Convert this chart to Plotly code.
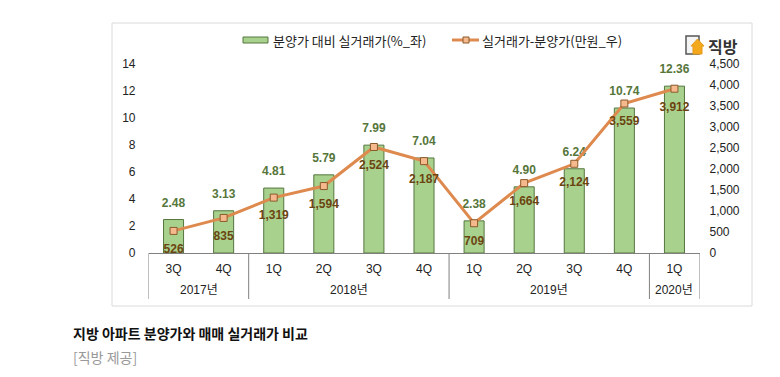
import plotly.graph_objects as go

quarters = ["3Q", "4Q", "1Q", "2Q", "3Q", "4Q", "1Q", "2Q", "3Q", "4Q", "1Q"]
years = ["2017년", "2018년", "2019년", "2020년"]
year_spans = [(0, 1), (2, 5), (6, 9), (10, 10)]
ratio = [2.48, 3.13, 4.81, 5.79, 7.99, 7.04, 2.38, 4.90, 6.24, 10.74, 12.36]
gap = [526, 835, 1319, 1594, 2524, 2187, 709, 1664, 2124, 3559, 3912]
left_ticks = [0, 2, 4, 6, 8, 10, 12, 14]
right_ticks = [0, 500, 1000, 1500, 2000, 2500, 3000, 3500, 4000, 4500]
bar_name = "분양가 대비 실거래가(%_좌)"
line_name = "실거래가-분양가(만원_우)"
caption = "지방 아파트 분양가와 매매 실거래가 비교"
source = "[직방 제공]"
brand = "직방"

# The page body has an 8px margin, so the figure is 772x369 and starts at (8, 8).
W, H = 772, 369
FONT = "Liberation Sans, Noto Sans CJK KR"
KR = "Noto Sans CJK KR"
x_idx = list(range(len(quarters)))


def px(x):
    return (x - 8) / W


def py(y):
    return 1 - (y - 8) / H


def rect(x0, x1, y0, y1, line, fill, width=1):
    return dict(type="rect", xref="paper", yref="paper", x0=px(x0), x1=px(x1), y0=py(y1), y1=py(y0),
                line=dict(color=line, width=width), fillcolor=fill)


fig = go.Figure()
fig.add_bar(
    x=x_idx, y=ratio, name=bar_name, width=0.4,
    marker=dict(color="#A9D18E", line=dict(color="#55763F", width=1)),
    yaxis="y",
)
fig.add_scatter(
    x=x_idx, y=gap, name=line_name, mode="lines+markers",
    line=dict(color="#DE8A4E", width=3),
    marker=dict(symbol="square", size=7, color="#F6B98D", line=dict(color="#8A5A2B", width=1)),
    yaxis="y2",
)
# Data labels: transparent markers set the distance between the label and its point.
fig.add_scatter(
    x=x_idx, y=ratio, mode="markers+text", showlegend=False, hoverinfo="skip",
    marker=dict(size=14, color="rgba(0,0,0,0)"),
    text=[f"{v:.2f}" for v in ratio], textposition="top center", cliponaxis=False,
    textfont=dict(family=FONT, size=12, color="#56763A", weight="bold"),
    yaxis="y",
)
fig.add_scatter(
    x=x_idx, y=gap, mode="markers+text", showlegend=False, hoverinfo="skip",
    marker=dict(size=19, color="rgba(0,0,0,0)"),
    text=[f"{v:,}" for v in gap], textposition="bottom center", cliponaxis=False,
    textfont=dict(family=FONT, size=12, color="#6B4511", weight="bold"),
    yaxis="y2",
)

shapes = [
    dict(type="rect", xref="paper", yref="paper", x0=px(112), x1=px(752), y0=py(306), y1=py(23),
         line=dict(color="#DADADA", width=1), layer="below"),
]
for bound in [-0.5, 1.5, 5.5, 9.5, 10.5]:
    shapes.append(dict(type="line", xref="x", yref="paper", x0=bound, x1=bound,
                       y0=py(299), y1=py(253), line=dict(color="#808080", width=1)))
shapes += [
    # legend keys
    rect(243, 268, 37, 43, "#55763F", "#A9D18E"),
    dict(type="line", xref="paper", yref="paper", x0=px(452), x1=px(479), y0=py(40), y1=py(40),
         line=dict(color="#DE8A4E", width=3)),
    rect(463, 469, 37, 43, "#8A5A2B", "#F6B98D"),
    # logo
    rect(686, 699, 36, 54, "#555555", "#F4F4F4", 1.5),
    dict(type="path", xref="paper", yref="paper",
         path=f"M {px(691)} {py(46)} L {px(697.5)} {py(39)} L {px(704)} {py(46)} L {px(702)} {py(46)} "
              f"L {px(702)} {py(54)} L {px(693)} {py(54)} L {px(693)} {py(46)} Z",
         line=dict(color="#E79A15", width=1), fillcolor="#F4A81C"),
]

annotations = []
for label, (a, b) in zip(years, year_spans):
    annotations.append(dict(text=label, x=(a + b) / 2, xref="x", y=py(290), yref="paper",
                            xanchor="center", yanchor="middle",
                            showarrow=False, font=dict(family=FONT, size=12, color="#222222")))


def note(text, x, y, size, color, weight="normal"):
    return dict(text=text, x=px(x), y=py(y), xref="paper", yref="paper",
                xanchor="left", yanchor="middle", showarrow=False, xshift=-1,
                font=dict(family=KR, size=size, color=color, weight=weight))


annotations += [
    note(bar_name, 272, 40, 13, "#222222"),
    note(line_name, 481, 40, 13, "#222222"),
    note(caption, 72, 333, 14, "#111111", "bold"),
    note(source, 72, 357, 14, "#999999"),
    note(brand, 707, 46, 16, "#333333", "bold"),
]

fig.update_layout(
    width=W, height=H, autosize=False,
    margin=dict(l=0, r=0, t=0, b=0, pad=0, autoexpand=False),
    paper_bgcolor="white", plot_bgcolor="white",
    bargap=0.6,
    font=dict(family=FONT, size=12, color="#222222"),
    showlegend=False,
    xaxis=dict(domain=[px(148.5), px(699.5)], range=[-0.5, 10.5], tickmode="array", tickvals=x_idx,
               ticktext=quarters, ticks="", showgrid=False, zeroline=False,
               showline=True, linecolor="#808080", linewidth=1, ticklabelstandoff=5,
               tickfont=dict(family=FONT, size=12, color="#222222")),
    yaxis=dict(domain=[py(253), py(64)], range=[0, 14], tickmode="array", tickvals=left_ticks,
               showgrid=False, zeroline=False, showline=False, ticks="", ticklabelstandoff=12,
               tickfont=dict(family=FONT, size=12, color="#222222")),
    yaxis2=dict(domain=[py(253), py(64)], range=[0, 4500], overlaying="y", side="right", anchor="x",
                tickmode="array", tickvals=right_ticks, tickformat=",d",
                showgrid=False, zeroline=False, showline=False, ticks="", ticklabelstandoff=9,
                tickfont=dict(family=FONT, size=12, color="#222222")),
    shapes=shapes, annotations=annotations,
)
fig.write_html("out.html")
